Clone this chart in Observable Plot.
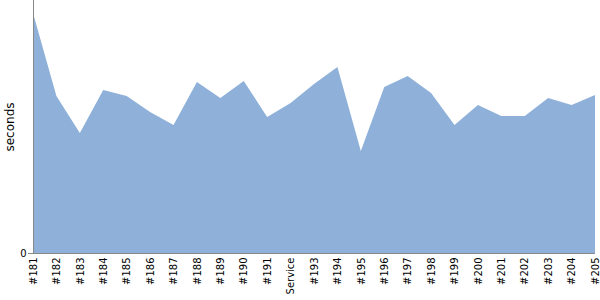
<!DOCTYPE html>
<html>
<head>
<meta charset="utf-8">
<script src="https://cdn.jsdelivr.net/npm/d3@7"></script>
<script src="https://cdn.jsdelivr.net/npm/@observablehq/plot@0.6"></script>
<style>
  html, body { margin: 0; padding: 0; background: #fff; }
  #chart svg { display: block; font-family: "DejaVu Sans", sans-serif; }
</style>
</head>
<body>
<div id="chart"></div>
<script>
const builds = ["#181","#182","#183","#184","#185","#186","#187","#188","#189","#190","#191","Service","#193","#194","#195","#196","#197","#198","#199","#200","#201","#202","#203","#204","#205"];
const seconds = [240,157,120,163,157,141,128,171,155,172,136,150,169,186,102,166,177,160,128,148,137,137,155,148,158];
const yTicks = [0];

const data = builds.map((b, i) => ({build: b, seconds: seconds[i]}));

const chart = Plot.plot({
  width: 600,
  height: 300,
  marginLeft: 33,
  marginRight: 5,
  marginTop: 0,
  marginBottom: 47,
  style: {fontFamily: "'DejaVu Sans', sans-serif", fontSize: "10px", color: "#000", background: "#fff"},
  x: {type: "point", domain: builds, padding: 0, round: false},
  y: {domain: [0, 253]},
  marks: [
    Plot.areaY(data, {x: "build", y: "seconds", fill: "#8fb1d9", curve: "linear"}),
    Plot.ruleY([0], {stroke: "#888", strokeWidth: 1}),
    Plot.ruleX([builds[0]], {stroke: "#888", strokeWidth: 1, y1: 0, y2: 253}),
    Plot.axisX({tickRotate: -90, tickSize: 0, tickPadding: 4, label: null, fontSize: 10}),
    Plot.axisY({ticks: yTicks, tickSize: 5, stroke: "#888", tickPadding: 2, label: "seconds", labelAnchor: "center", labelArrow: "none", labelOffset: 28, fontSize: 10}),
  ]
});
chart.querySelectorAll("g[aria-label='y-axis label'] text").forEach(t => t.style.fontSize = "12px");
document.getElementById("chart").appendChild(chart);
</script>
</body>
</html>
